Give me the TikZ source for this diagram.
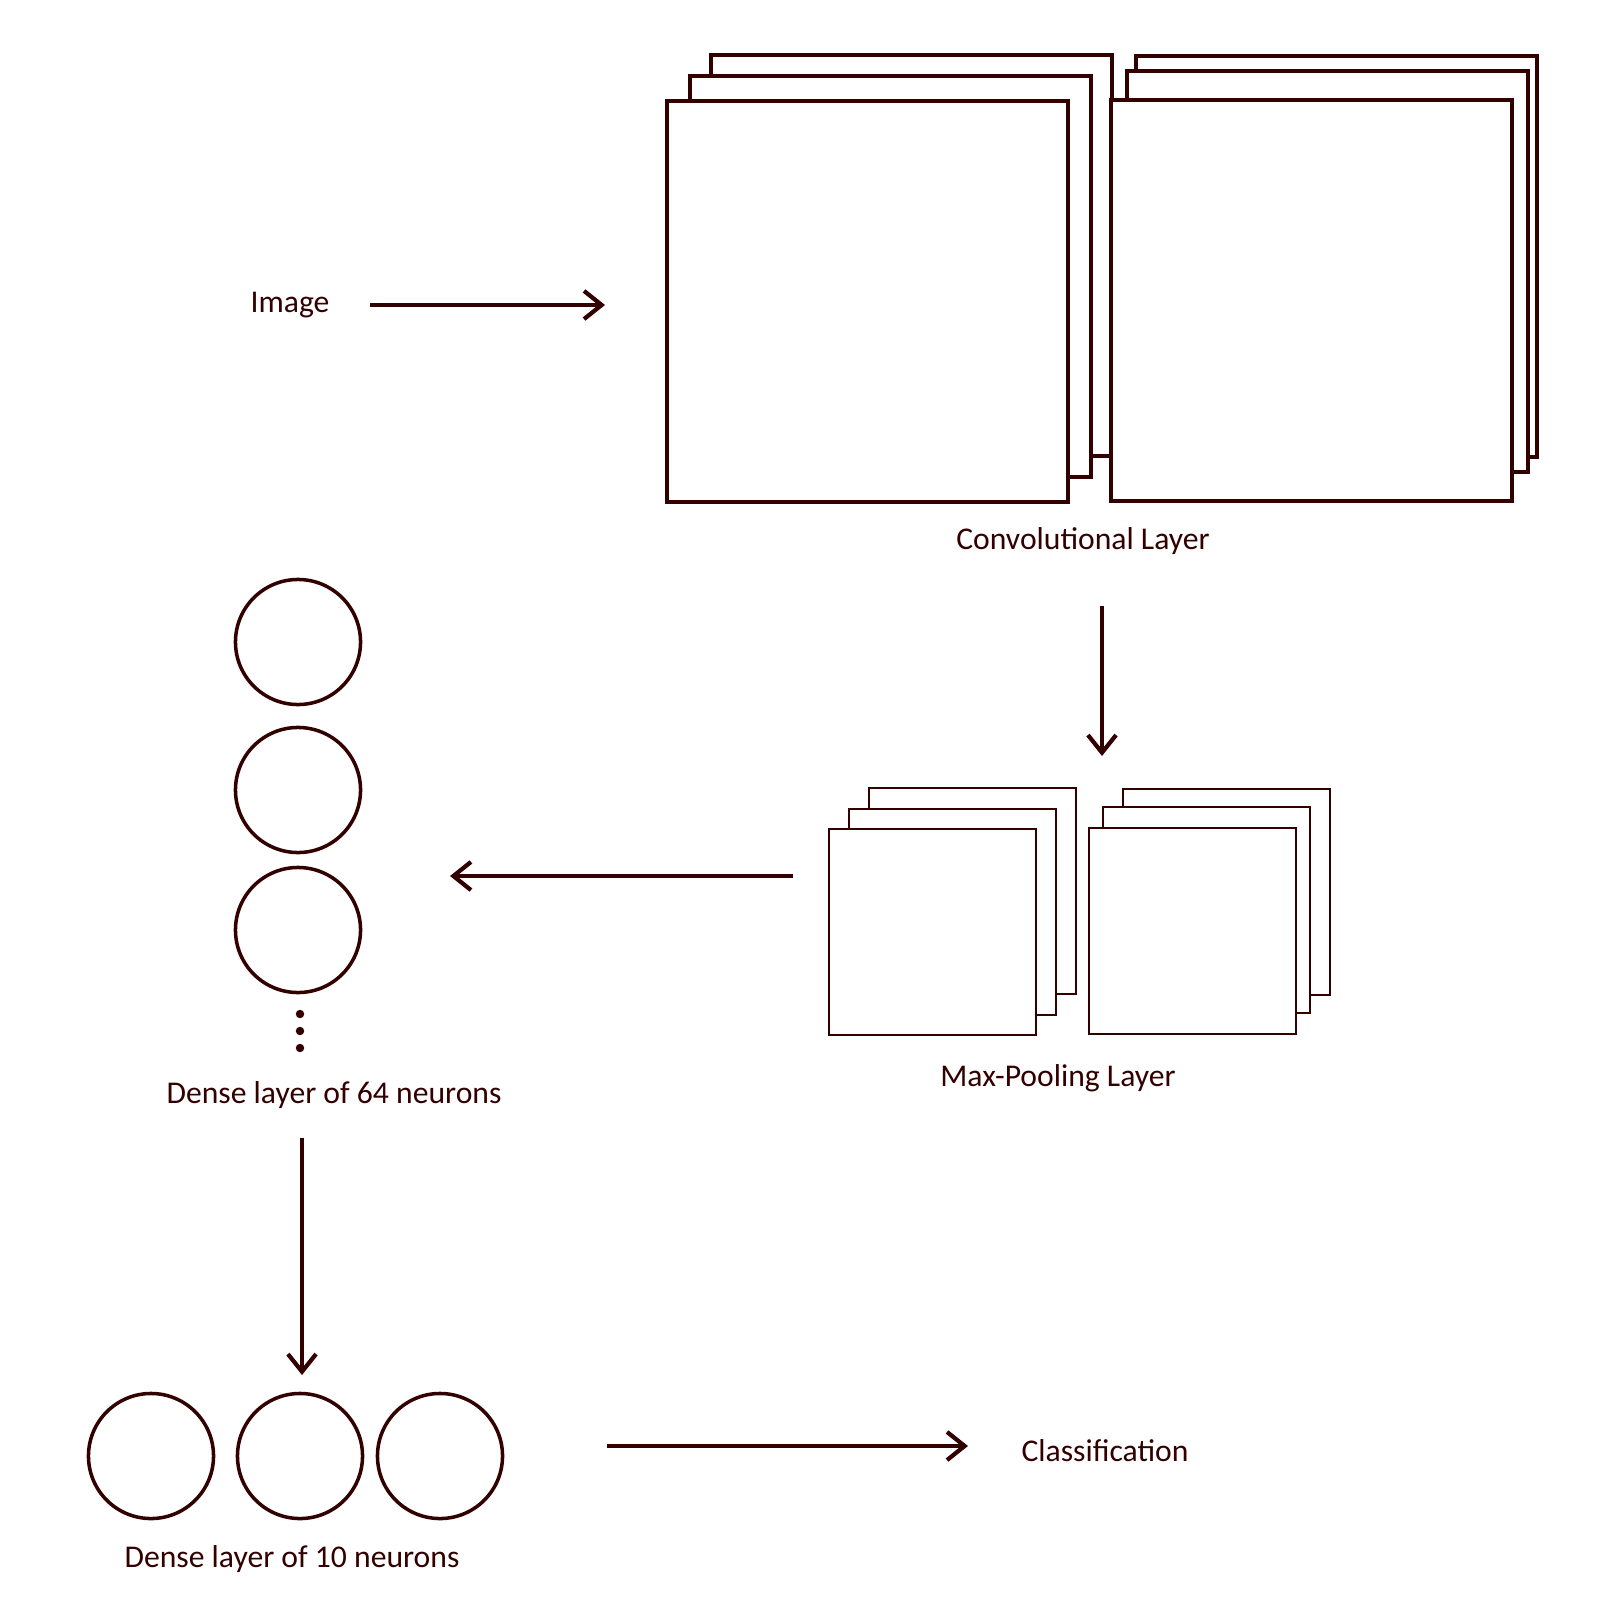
\documentclass[tikz,border=0pt]{standalone}
\usepackage{fontspec}
\setmainfont{Carlito}
\usepackage{xcolor}
\usepackage{tikz}
\usetikzlibrary{
  positioning,
  arrows.meta
}
\definecolor{deepmaroon}{HTML}{330000}

\begin{document}
\begin{tikzpicture}[x=0.01cm,y=-0.01cm,
  every node/.style={text=deepmaroon,font=\fontsize{9}{11}\selectfont},
  fmap/.style={draw=deepmaroon,fill=white,line width=1.2pt},
  pmap/.style={draw=deepmaroon,fill=white,line width=0.6pt},
  neuron/.style={circle,draw=deepmaroon,line width=1pt,minimum size=1.25cm,inner sep=0pt},
  flow/.style={draw=deepmaroon,line width=1.2pt,-{Straight Barb[length=5pt,width=8pt]}}]
  \useasboundingbox (0,0) rectangle (1600,1600);

  % 畳み込み層: 奥から手前へ重ねる
  \foreach \x/\y in {711/55,690/76,667/101,1136/56,1127/71,1111/100}
  \draw[fmap] (\x,\y) rectangle ++(401,401);
  \node (conv) at (1083,541) {Convolutional Layer};

  % プーリング層
  \foreach \x/\y in {869/788,849/809,829/829,1123/789,1103/807,1089/828}
  \draw[pmap] (\x,\y) rectangle ++(207,206);
  \node (pool) at (1058,1078) {Max-Pooling Layer};

  % 入力
  \node (img) at (290,305) {Image};

  % 全結合層 (64)
  \node[neuron] (h1) at (298,642) {};
  \node[neuron] (h2) at (298,790) {};
  \node[neuron] (h3) at (298,930) {};
  \foreach \y in {1014,1031,1048}
  \fill[deepmaroon] (300,\y) circle (1.2pt);
  \node (dense64) at (334,1095) {Dense layer of 64 neurons};

  % 全結合層 (10)
  \node[neuron] (o1) at (151,1456) {};
  \node[neuron] (o2) at (300,1456) {};
  \node[neuron] (o3) at (440,1456) {};
  \node (dense10) at (292,1559) {Dense layer of 10 neurons};
  \node (cls) at (1105,1451) {Classification};

  % 矢印の端点
  \coordinate (a1) at (370,305);  \coordinate (b1) at (605,305);
  \coordinate (a2) at (1102,606); \coordinate (b2) at (1102,756);
  \coordinate (a3) at (793,876);  \coordinate (b3) at (450,876);
  \coordinate (a4) at (302,1138); \coordinate (b4) at (302,1375);
  \coordinate (a5) at (607,1446); \coordinate (b5) at (968,1446);

  \foreach \k in {1,...,5}
  \draw[flow] (a\k) -- (b\k);
\end{tikzpicture}
\end{document}
